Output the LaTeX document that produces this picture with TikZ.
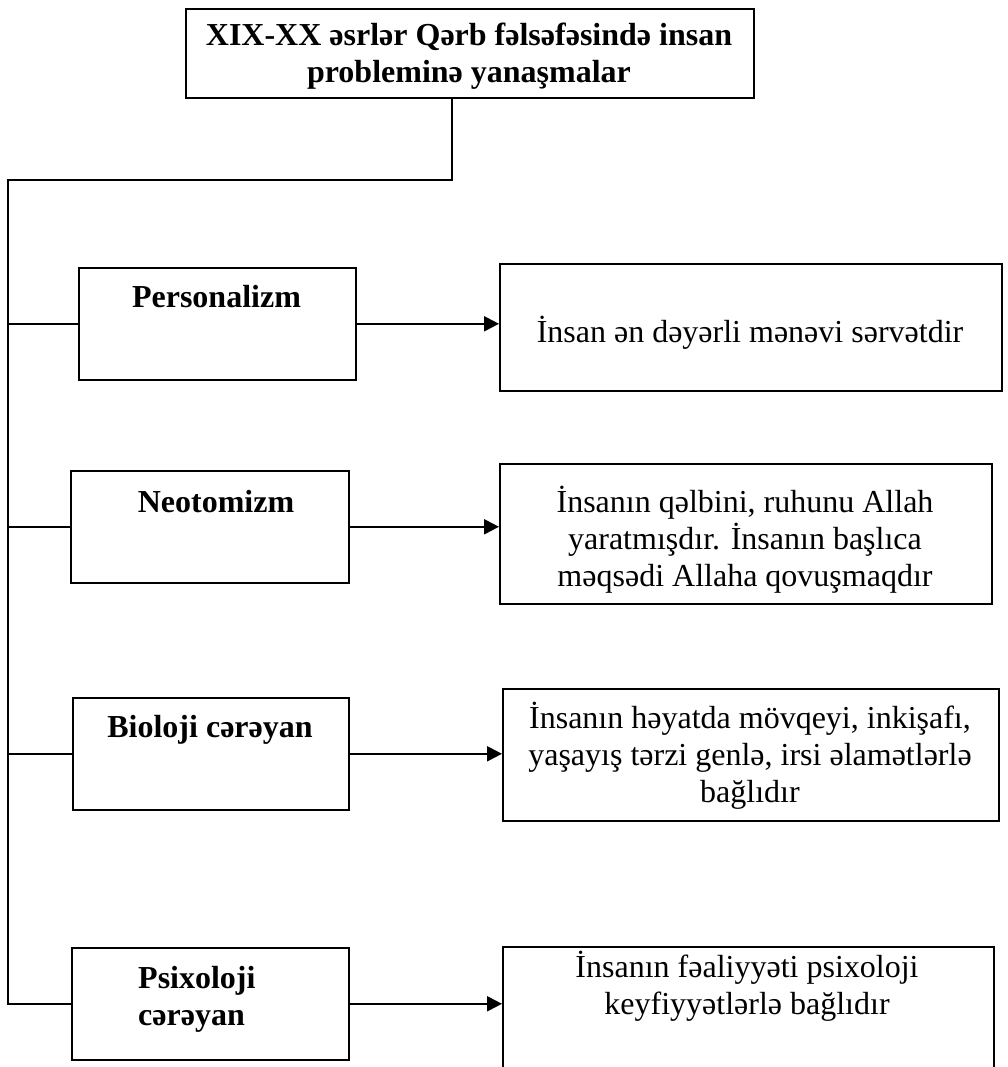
\documentclass[tikz,border=0pt]{standalone}
\usepackage{fontspec}
\setmainfont{Liberation Serif}
\usetikzlibrary{arrows.meta}
\begin{document}
\begin{tikzpicture}[x=1pt,y=-1pt,
  ln/.style={line width=1.6pt},
  box/.style={draw, line width=1.6pt, rectangle, inner sep=0pt, anchor=north west},
  txt/.style={font=\fontsize{32}{37}\selectfont, inner sep=0pt, align=center},
  btxt/.style={font=\fontsize{32}{37}\selectfont\bfseries, inner sep=0pt, align=center},
  arr/.style={line width=2.2pt, -{Triangle[length=15pt,width=15pt]}}
]
\clip (0,0) rectangle (1007,1067);
\fill[white] (0,0) rectangle (1007,1067);

% title (anchor=base is the baseline of the last line)
\node[box, minimum width=568pt, minimum height=89pt] (title) at (185,8) {};
\node[btxt, anchor=base] (titlet) at (469,83) {XIX-XX əsrlər Qərb fəlsəfəsində insan\\probleminə yanaşmalar};

% left boxes
\node[box, minimum width=277pt, minimum height=112pt] (pers) at (78,267) {};
\node[btxt, anchor=base] (perst) at (216.5,307) {Personalizm};
\node[box, minimum width=278pt, minimum height=112pt] (neo) at (70,470) {};
\node[btxt, anchor=base] (neot) at (216,512) {Neotomizm};
\node[box, minimum width=276pt, minimum height=112pt] (bio) at (72,697) {};
\node[btxt, anchor=base] (biot) at (210,737) {Bioloji cərəyan};
\node[box, minimum width=277pt, minimum height=112pt] (psx) at (71,947) {};
\node[btxt, align=left, anchor=base west] (psxt) at (138,1025) {Psixoloji\\cərəyan};

% right boxes
\node[box, minimum width=502pt, minimum height=127pt] (r1) at (499,263) {};
\node[txt, anchor=base] (r1t) at (750,342) {İnsan ən dəyərli mənəvi sərvətdir};
\node[box, minimum width=492pt, minimum height=140pt] (r2) at (499,463) {};
\node[txt, anchor=base] (r2t) at (745,586) {İnsanın qəlbini, ruhunu Allah\\yaratmışdır. İnsanın başlıca\\məqsədi Allaha qovuşmaqdır};
\node[box, minimum width=496pt, minimum height=132pt] (r3) at (502,688) {};
\node[txt, anchor=base] (r3t) at (750,802) {İnsanın həyatda mövqeyi, inkişafı,\\yaşayış tərzi genlə, irsi əlamətlərlə\\bağlıdır};
\node[box, minimum width=491pt, minimum height=150pt] (r4) at (502,946) {};
\node[txt, anchor=base] (r4t) at (747,1014) {İnsanın fəaliyyəti psixoloji\\keyfiyyətlərlə bağlıdır};

% connectors
\coordinate (j) at (452,180);
\coordinate (c) at (8,180);
\draw[ln] (title.south -| j) -- (j) -- (c) -- (c |- psx.west) -- (psx.west);
\draw[ln] (c |- pers.west) -- (pers.west);
\draw[ln] (c |- neo.west) -- (neo.west);
\draw[ln] (c |- bio.west) -- (bio.west);

\draw[arr] (pers.east) -- (pers.east -| r1.west);
\draw[arr] (neo.east) -- (neo.east -| r2.west);
\draw[arr] (bio.east) -- (bio.east -| r3.west);
\draw[arr] (psx.east) -- (psx.east -| r4.west);
\end{tikzpicture}
\end{document}
